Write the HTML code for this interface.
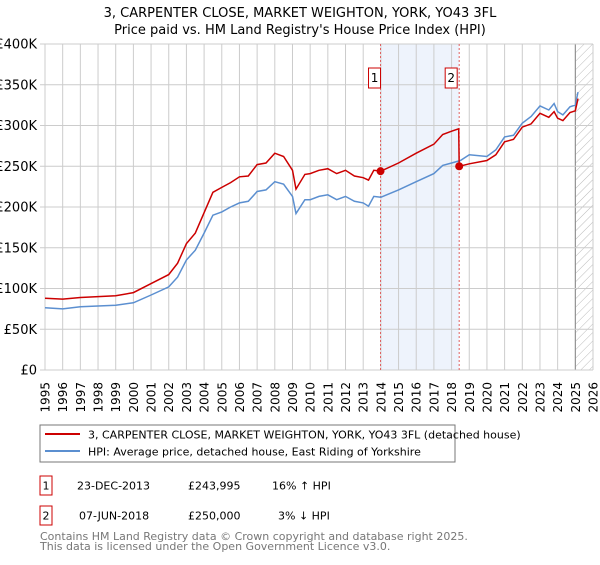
<!DOCTYPE html>
<html><head><meta charset="utf-8"><style>
body{margin:0;background:#fff;font-family:"Liberation Sans","DejaVu Sans",sans-serif;}
svg text{font-family:"DejaVu Sans","Liberation Sans",sans-serif;}
</style></head><body>
<svg id="c" width="600" height="560" viewBox="0 0 600 560">
<text x="300" y="17" text-anchor="middle" font-size="13" fill="#000">3, CARPENTER CLOSE, MARKET WEIGHTON, YORK, YO43 3FL</text>
<text x="300" y="34" text-anchor="middle" font-size="13" fill="#000">Price paid vs. HM Land Registry's House Price Index (HPI)</text>
<g id="grid"></g>
<g id="marks"></g>
<rect x="40" y="425" width="415" height="37" fill="#fff" stroke="#777"/>
<line x1="45" y1="434" x2="80" y2="434" stroke="#cc0000" stroke-width="2"/>
<text x="88" y="438.5" font-size="11">3, CARPENTER CLOSE, MARKET WEIGHTON, YORK, YO43 3FL (detached house)</text>
<line x1="45" y1="451" x2="80" y2="451" stroke="#5b8fd0" stroke-width="2"/>
<text x="88" y="455.5" font-size="11">HPI: Average price, detached house, East Riding of Yorkshire</text>
<g font-size="11">
<rect x="40" y="476" width="12" height="19" fill="#fff" stroke="#cc0000"/><text x="46" y="489.5" text-anchor="middle">1</text>
<text x="77" y="489.5">23-DEC-2013</text><text x="188" y="489.5">£243,995</text><text x="272" y="489.5">16% ↑ HPI</text></g>
<g font-size="11">
<rect x="40" y="506" width="12" height="19" fill="#fff" stroke="#cc0000"/><text x="46" y="519.5" text-anchor="middle">2</text>
<text x="79" y="519.5">07-JUN-2018</text><text x="188" y="519.5">£250,000</text><text x="278" y="519.5">3% ↓ HPI</text></g>
<text x="40" y="540" font-size="11" fill="#777">Contains HM Land Registry data © Crown copyright and database right 2025.</text>
<text x="40" y="550" font-size="11" fill="#777">This data is licensed under the Open Government Licence v3.0.</text>
</svg>
<script>
const hpiYears=[1995,1996,1997,1998,1999,2000,2001,2002,2002.5,2003,2003.5,2004,2004.5,2005,2005.5,2006,2006.5,2007,2007.5,2008,2008.5,2009,2009.2,2009.7,2010,2010.5,2011,2011.5,2012,2012.5,2013,2013.3,2013.6,2014,2015,2016,2017,2017.5,2018,2018.5,2019,2020,2020.5,2021,2021.5,2022,2022.5,2023,2023.5,2023.8,2024,2024.3,2024.7,2025,2025.15];
const hpiValues=[76.5,75,77.5,78.5,79.5,82.5,92,102,114,135,147,168,190,194,200,205,207,219,221,231,228,213,192,209,209,213,215,209,213,207,205,201,213,212,221,231,241,251,254,257,264,262,270,286,288,303,311,324,319,327,317,313,323,325,341];
const priceYears=[1995,1996,1997,1998,1999,2000,2001,2002,2002.5,2003,2003.5,2004,2004.5,2005,2005.5,2006,2006.5,2007,2007.5,2008,2008.5,2009,2009.2,2009.7,2010,2010.5,2011,2011.5,2012,2012.5,2013,2013.3,2013.6,2014,2015,2016,2017,2017.5,2018,2018.4,2018.43,2019,2020,2020.5,2021,2021.5,2022,2022.5,2023,2023.5,2023.8,2024,2024.3,2024.7,2025,2025.15];
const priceValues=[88,87,89,90,91,95,106,117,131,155,168,193,218,224,230,237,238,252,254,266,262,245,222,240,241,245,247,241,245,238,236,233,245,244,254,266,277,289,293,296,250,253,257,264,280,283,298,302,315,310,317,309,306,316,318,333];
const saleYears=[2013.98,2018.43];
const saleValues=[243.995,250];
const saleLabels=["1","2"];
const yTicks=[0,50,100,150,200,250,300,350,400];
const yTickLabels=["£0","£50K","£100K","£150K","£200K","£250K","£300K","£350K","£400K"];
const xTicks=[];for(let y=1995;y<=2026;y++)xTicks.push(y);

const L=45,R=593,T=44,B=370,X0=1995,X1=2026;
const xs=v=>L+(v-X0)/(X1-X0)*(R-L);
const ys=v=>B-v/400*(B-T);
const NS="http://www.w3.org/2000/svg";
function mk(tag,attrs,parent){const e=document.createElementNS(NS,tag);for(const k in attrs)e.setAttribute(k,attrs[k]);parent.appendChild(e);return e;}
const grid=document.getElementById('grid'),marks=document.getElementById('marks');
// shading between sales
let sh=mk('rect',{x:xs(saleYears[0]),y:T,width:xs(saleYears[1])-xs(saleYears[0]),height:B-T,fill:'#eef3fc'},grid);


// hatched future
let hp=mk('pattern',{id:'hatch',width:6,height:6,patternUnits:'userSpaceOnUse',patternTransform:'rotate(45)'},mk('defs',{},grid));
mk('line',{x1:0,y1:0,x2:0,y2:6,stroke:'#bbb','stroke-width':1},hp);
let hr=mk('rect',{x:xs(2025.0),y:T,width:R-xs(2025.0),height:B-T,fill:'url(#hatch)'},grid);


xTicks.forEach(t=>{
 let l=mk('line',{x1:xs(t),y1:T,x2:xs(t),y2:B,stroke:'#cccccc','stroke-width':1},grid);
 
 
 let tx=mk('text',{x:0,y:0,'font-size':12,'text-anchor':'end',transform:`translate(${xs(t)+4.5},382) rotate(-90)`},grid);
 tx.textContent=t;
 
 
});
mk('line',{x1:xs(2025.0),y1:T,x2:xs(2025.0),y2:B,stroke:'#888','stroke-width':1},grid);
yTicks.forEach((t,i)=>{
 let l=mk('line',{x1:L-5,y1:ys(t),x2:R,y2:ys(t),stroke:'#cccccc','stroke-width':1},grid);
 
 
 let tx=mk('text',{x:L-8,y:ys(t)+4.5,'font-size':13,'text-anchor':'end'},grid);
 tx.textContent=yTickLabels[i];
 
 
});
saleYears.forEach((s,i)=>{
 let l=mk('line',{x1:xs(s),y1:T,x2:xs(s),y2:B,stroke:'#e06060','stroke-width':1,'stroke-dasharray':'2,2'},grid);
 
 
 let bx=xs(s)-(i==0?6:8)-6;
 let r=mk('rect',{x:bx,y:68,width:12,height:20,fill:'#fff',stroke:'#cc0000'},grid);
 
 
 let tx=mk('text',{x:bx+6,y:82,'font-size':12,'text-anchor':'middle'},grid);
 tx.textContent=saleLabels[i];
 
 
});
const path=(xa,va)=>xa.map((x,i)=>(i?'L':'M')+xs(x).toFixed(1)+','+ys(va[i]).toFixed(1)).join('');
let hl=mk('path',{d:path(hpiYears,hpiValues),fill:'none',stroke:'#5b8fd0','stroke-width':1.5},marks);


let pl=mk('path',{d:path(priceYears,priceValues),fill:'none',stroke:'#cc0000','stroke-width':1.5},marks);


saleYears.forEach((s,i)=>{
 let c=mk('circle',{cx:xs(s),cy:ys(saleValues[i]),r:4,fill:'#cc0000'},marks);
 
 
});
</script>
</body></html>
